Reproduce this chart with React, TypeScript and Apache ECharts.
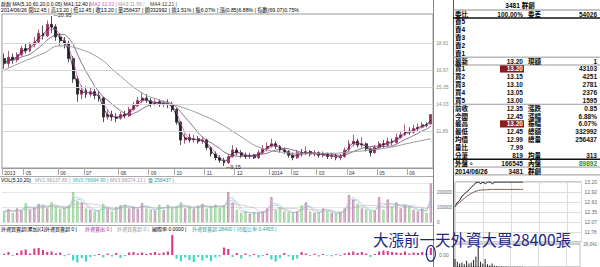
import React, { useEffect, useRef } from "react";
import * as echarts from "echarts";

// ---- daily candles (about 3 trading days each): [open, close, low, high]
const candles: number[][] = [
  [17.6, 17.2, 16.8, 18.0], [17.2, 17.7, 16.9, 18.2], [17.7, 17.5, 17.2, 18.0], [17.5, 17.9, 17.3, 18.1], [17.9, 18.4, 17.8, 18.6],
  [18.4, 18.2, 18.0, 18.8], [18.2, 18.7, 18.1, 18.9], [18.7, 18.9, 18.5, 19.3], [18.9, 19.6, 18.8, 19.9], [19.6, 19.4, 19.1, 20.2],
  [19.4, 20.3, 19.3, 20.6], [20.3, 20.1, 19.6, 20.95], [20.1, 19.3, 19.0, 20.3], [19.3, 19.0, 18.6, 19.6], [19.0, 18.8, 18.4, 19.3],
  [18.8, 17.6, 17.3, 19.0], [17.6, 16.0, 15.7, 17.8], [16.0, 14.8, 14.2, 16.2], [14.8, 15.1, 14.4, 15.5], [15.1, 14.8, 14.5, 15.4],
  [14.8, 15.0, 14.6, 15.3], [15.0, 14.7, 14.4, 15.2], [14.7, 14.5, 14.2, 15.0], [14.5, 13.0, 12.6, 14.6], [13.0, 13.2, 12.8, 13.6],
  [13.2, 13.0, 12.7, 13.5], [13.0, 12.9, 12.6, 13.3], [12.9, 13.2, 12.8, 13.4], [13.2, 13.1, 12.9, 13.5], [13.1, 13.6, 13.0, 13.8],
  [13.6, 13.9, 13.5, 14.2], [13.9, 14.3, 13.8, 14.6], [14.3, 14.5, 14.1, 14.9], [14.5, 14.3, 14.1, 14.8], [14.3, 14.0, 13.8, 14.5],
  [14.0, 14.2, 13.9, 14.4], [14.2, 14.0, 13.8, 14.4], [14.0, 14.1, 13.8, 14.3], [14.1, 14.0, 13.7, 14.4], [14.0, 13.6, 13.4, 14.2],
  [13.6, 12.6, 12.4, 13.7], [12.6, 11.2, 10.8, 12.7], [11.2, 11.4, 10.9, 11.7], [11.4, 11.2, 11.0, 11.7], [11.2, 11.3, 11.0, 11.6],
  [11.3, 11.1, 10.9, 11.5], [11.1, 11.2, 10.9, 11.4], [11.2, 10.6, 10.4, 11.3], [10.6, 10.1, 9.9, 10.7], [10.1, 9.8, 9.6, 10.3],
  [9.8, 9.6, 9.4, 10.0], [9.6, 9.4, 9.15, 9.8], [9.4, 9.9, 9.3, 10.1], [9.9, 10.4, 9.8, 10.8], [10.4, 10.2, 10.0, 10.6],
  [10.2, 10.0, 9.8, 10.4], [10.0, 9.9, 9.7, 10.2], [9.9, 10.0, 9.7, 10.2], [10.0, 9.8, 9.7, 10.1], [9.8, 10.2, 9.7, 10.4],
  [10.2, 10.5, 10.1, 10.8], [10.5, 10.7, 10.3, 11.0], [10.7, 10.9, 10.6, 11.3], [10.9, 10.7, 10.5, 11.1], [10.7, 10.4, 10.2, 10.8],
  [10.4, 10.3, 10.1, 10.6], [10.3, 10.0, 9.8, 10.4], [10.0, 9.8, 9.6, 10.2], [9.8, 10.2, 9.7, 10.4], [10.2, 10.1, 9.9, 10.5],
  [10.1, 10.3, 10.0, 10.7], [10.3, 10.1, 9.9, 10.4], [10.1, 10.2, 9.9, 10.4], [10.2, 10.0, 9.8, 10.3], [10.0, 10.1, 9.8, 10.3],
  [10.1, 9.9, 9.7, 10.2], [9.9, 10.0, 9.7, 10.2], [10.0, 9.8, 9.6, 10.1], [9.8, 9.9, 9.6, 10.1], [9.9, 10.4, 9.8, 10.6],
  [10.4, 10.9, 10.3, 11.2], [10.9, 11.1, 10.7, 11.6], [11.1, 10.8, 10.6, 11.3], [10.8, 10.9, 10.6, 11.4], [10.9, 10.5, 10.3, 11.0],
  [10.5, 10.2, 9.9, 10.6], [10.2, 10.6, 10.1, 10.8], [10.6, 10.9, 10.5, 11.1], [10.9, 10.8, 10.6, 11.2], [10.8, 11.1, 10.7, 11.4],
  [11.1, 11.0, 10.8, 11.3], [11.0, 11.4, 10.9, 11.7], [11.4, 11.6, 11.3, 11.9], [11.6, 11.9, 11.5, 12.4], [11.9, 11.8, 11.6, 12.2],
  [11.8, 12.1, 11.7, 12.4], [12.1, 12.2, 11.9, 12.5], [12.2, 12.4, 12.1, 12.6], [12.4, 12.35, 12.2, 12.6], [12.45, 13.2, 12.45, 13.2],
];

const volumes = [
  70000, 85000, 60000, 90000, 75000, 125000, 80000, 95000, 120000, 110000,
  90000, 130000, 100000, 85000, 95000, 110000, 200000, 140000, 130000, 90000,
  80000, 70000, 75000, 120000, 90000, 70000, 100000, 110000, 115000, 90000,
  100000, 85000, 125000, 90000, 80000, 75000, 115000, 80000, 115000, 90000,
  105000, 130000, 90000, 100000, 85000, 110000, 120000, 90000, 105000, 115000,
  95000, 110000, 200000, 130000, 80000, 60000, 70000, 55000, 65000, 60000,
  70000, 90000, 165000, 80000, 100000, 70000, 65000, 60000, 70000, 110000,
  130000, 70000, 60000, 65000, 90000, 70000, 60000, 55000, 65000, 90000,
  180000, 150000, 120000, 90000, 80000, 70000, 75000, 165000, 80000, 150000,
  100000, 130000, 90000, 110000, 105000, 80000, 70000, 90000, 60000, 256437,
];

const foreignNet = [
  5000, 12000, -4000, 8000, 18000, 22000, 6000, 26000, 28000, 20000,
  12000, 14000, 6000, 10000, -5000, 3000, -22000, -30000, -12000, -26000,
  -8000, -4000, 4000, -10000, 6000, -6000, 8000, -12000, -5000, 10000,
  12000, 6000, 10000, 4000, 8000, 12000, 6000, 10000, 14000, 80000,
  -15000, -25000, -10000, -20000, -28000, -8000, -22000, -12000, -25000, -10000,
  -6000, 30000, 24000, -8000, 8000, -14000, 6000, -6000, 4000, -10000,
  -4000, 5000, -18000, -26000, -12000, 8000, -6000, -20000, -14000, 12000,
  6000, -4000, 5000, -6000, 4000, -3000, -5000, 3000, -4000, 6000,
  10000, 14000, 8000, 12000, 6000, -8000, 4000, 14000, 18000, 16000,
  12000, 10000, 8000, 14000, 6000, 10000, 8000, 12000, 6000, 28400,
];

const ma60Idx = [0, 4, 9, 13, 17, 22, 26, 32, 36, 41, 45, 50, 55, 59, 64, 69, 76, 80, 85, 90, 94, 99];
const ma60Val = [16.7, 17.3, 18.0, 18.6, 18.4, 17.65, 16.5, 14.9, 14.35, 13.8, 13.3, 12.5, 11.45, 10.65, 10.25, 10.15, 10.15, 10.25, 10.4, 10.65, 10.95, 11.3];

const monthIdx = [0, 5, 13, 19, 27, 34, 40, 47, 54, 62, 67, 73, 80, 87, 94];
const monthText = ["2013", "05", "06", "07", "08", "09", "10", "11", "12", "2014", "02", "03", "04", "05", "06"];

const fibLevels = [18.81, 16.67, 15.35, 14.03, 11.89];
const fibPct = ["80.9%", "61.8%", "", "38.2%", "19.1%"];
const highPrice = 20.95;
const lowPrice = 9.15;
const lastPrice = 13.2;

// intraday (minutes after 09:00)
const tickMin = [0, 5, 10, 15, 20, 25, 30, 35, 40, 45, 50, 55, 60, 65, 70, 75, 80, 85, 90, 95, 100, 105, 110, 115, 120, 125, 130, 135, 140, 145];
const tickPrice = [12.5, 12.62, 12.68, 12.8, 12.86, 12.92, 12.98, 13.05, 13.12, 13.18, 13.2, 13.15, 13.2, 13.15, 13.2, 13.2, 13.15, 13.2, 13.2, 13.2, 13.2, 13.2, 13.2, 13.2, 13.2, 13.2, 13.2, 13.2, 13.2, 13.2];
const tickAvg = [12.52, 12.57, 12.62, 12.68, 12.74, 12.79, 12.84, 12.88, 12.91, 12.94, 12.96, 12.97, 12.98, 12.98, 12.98, 12.99, 12.99, 12.99, 12.99, 12.99, 12.99, 12.99, 12.99, 12.99, 12.99, 12.99, 12.99, 12.99, 12.99, 12.99];
const tickVol = [9000, 6000, 4000, 5000, 3000, 7000, 4000, 5000, 8000, 12000, 24000, 6000, 4000, 9000, 3000, 2000, 4000, 1500, 1000, 600, 500, 400, 500, 300, 400, 300, 300, 200, 300, 200];
const tickVolMax = 26041;
const prevClose = 12.35;
const limitSpan = 0.85;

// quote table
const qLabelA = ["委比", "賣5", "賣4", "賣3", "賣2", "賣1", "最新", "買1", "買2", "買3", "買4", "買5", "前收", "今開", "最高", "最低", "均價", "量比", "分筆", "外盤。", "2014/06/26"];
const qValueA = ["100.00%", "", "", "", "", "", "13.20", "13.20", "13.15", "13.10", "13.05", "13.00", "12.35", "12.45", "13.20", "12.45", "12.99", "7.99", "819", "166545", "3481"];
const qLabelB = ["委差", "", "", "", "", "", "現額", "", "", "", "", "", "漲跌", "漲幅", "振幅", "總額", "總量", "", "均量", "內盤", "群創"];
const qValueB = ["54026", "", "", "", "", "", "1", "43103", "4251", "2781", "2376", "1595", "0.85", "6.88%", "6.07%", "332992", "256437", "", "313", "89892", ""];
const qHighlight = [7, 14];

const SMALL = "'Liberation Sans', 'Noto Sans CJK TC', sans-serif";
const CJK = "'Noto Sans CJK TC', 'Liberation Sans', sans-serif";

function movingAvg(vals: number[], n: number) {
  return vals.map((_, i) => {
    const s = Math.max(0, i - n + 1);
    let sum = 0;
    for (let k = s; k <= i; k++) sum += vals[k];
    return +(sum / (i - s + 1)).toFixed(3);
  });
}

function txt(g: any[], x: number, y: number, text: string, o: any = {}) {
  const size = o.size || 5;
  g.push({
    type: "text",
    x,
    y,
    silent: true,
    z: 50,
    style: {
      text,
      fill: o.fill || "#000",
      font: `${o.weight || "normal"} ${size}px ${o.family || SMALL}`,
      lineHeight: size,
      align: o.align || "left",
      textAlign: o.align || "left",
      verticalAlign: "middle",
      textVerticalAlign: "middle",
    },
  });
}
function hline(g: any[], x1: number, x2: number, y: number, color = "#888", w = 1) {
  g.push({ type: "line", silent: true, z: 40, shape: { x1, y1: y, x2, y2: y }, style: { stroke: color, lineWidth: w } });
}
function vline(g: any[], x: number, y1: number, y2: number, color = "#888", w = 1) {
  g.push({ type: "line", silent: true, z: 40, shape: { x1: x, y1, x2: x, y2 }, style: { stroke: color, lineWidth: w } });
}

export default function App() {
  const ref = useRef<HTMLDivElement>(null);
  useEffect(() => {
    const chart = echarts.init(ref.current!, null, { renderer: "svg", width: 600, height: 267 });
    const cats = candles.map((_, i) => String(i));
    const closes = candles.map((c) => c[1]);
    const ma60 = cats.map((_, i) => {
      const k = ma60Idx.indexOf(i);
      return k >= 0 ? ma60Val[k] : null;
    });
    const isTick = (i: number) => monthIdx.indexOf(i) >= 0;
    const upColor = "#98305e";
    const downColor = "#262626";

    const fibMarks: any[] = [];
    fibLevels.forEach((v, k) => {
      fibMarks.push({ yAxis: v, lineStyle: { color: "#d6d6d6", width: 1, type: "solid" }, label: { formatter: v.toFixed(2) } });
      if (fibPct[k]) {
        fibMarks.push({ yAxis: v, lineStyle: { opacity: 0 }, label: { formatter: "(" + fibPct[k] + ")", offset: [0, 6] } });
      }
    });
    fibMarks.push({ yAxis: highPrice, lineStyle: { opacity: 0 }, label: { formatter: highPrice.toFixed(2) } });
    fibMarks.push({ yAxis: lowPrice, lineStyle: { opacity: 0 }, label: { formatter: lowPrice.toFixed(2) } });
    fibMarks.push({ yAxis: lastPrice, lineStyle: { opacity: 0 }, label: { formatter: lastPrice.toFixed(2), color: "#d02020" } });

    const hiIdx = candles.findIndex((c) => c[3] === highPrice);
    const loIdx = candles.findIndex((c) => c[2] === lowPrice);

    const option: any = {
      animation: false,
      backgroundColor: "#ffffff",
      grid: [
        { left: 2, top: 14, width: 431, height: 154, show: true, borderColor: "#999", borderWidth: 1 },
        { left: 2, top: 183, width: 431, height: 39 },
        { left: 2, top: 233, width: 431, height: 34 },
        { left: 455, top: 182, width: 128, height: 60, show: true, borderColor: "#999", borderWidth: 1 },
        { left: 455, top: 244, width: 128, height: 23, show: true, borderColor: "#999", borderWidth: 1 },
      ],
      xAxis: [
        {
          type: "category", gridIndex: 0, data: cats, boundaryGap: true,
          axisLine: { lineStyle: { color: "#999" } },
          axisTick: { show: true, interval: (i: number) => isTick(i), length: 7, lineStyle: { color: "#aaa" } },
          axisLabel: {
            interval: (i: number) => isTick(i),
            formatter: (_v: string, i: number) => monthText[monthIdx.indexOf(i)] || "",
            fontSize: 5, color: "#333", align: "left", margin: 2, fontFamily: SMALL,
          },
          splitLine: { show: false },
        },
        { type: "category", gridIndex: 1, data: cats, axisLine: { show: false }, axisTick: { show: false }, axisLabel: { show: false } },
        { type: "category", gridIndex: 2, data: cats, axisLine: { show: false }, axisTick: { show: false }, axisLabel: { show: false } },
        { type: "value", gridIndex: 3, min: 0, max: 270, interval: 60, axisLine: { show: false }, axisTick: { show: false }, axisLabel: { show: false }, splitLine: { show: true, lineStyle: { color: "#ddd" } } },
        { type: "value", gridIndex: 4, min: 0, max: 270, interval: 60, axisLine: { show: false }, axisTick: { show: false }, axisLabel: { show: false }, splitLine: { show: true, lineStyle: { color: "#ddd" } } },
      ],
      yAxis: [
        { type: "value", gridIndex: 0, min: 8.993, max: 21.107, position: "right", axisLabel: { show: false }, axisLine: { show: false }, axisTick: { show: false }, splitLine: { show: false } },
        {
          type: "value", gridIndex: 1, min: 0, max: 260000, interval: 100000, position: "right",
          axisLine: { show: false }, axisTick: { show: false },
          axisLabel: { fontSize: 4.5, color: "#666", margin: 4, fontFamily: SMALL, formatter: (v: number) => (v <= 200000 ? String(v) : "") },
          splitLine: { show: true, lineStyle: { color: "#e6e6e6" } },
        },
        {
          type: "value", gridIndex: 2, min: -48000, max: 88000, interval: 8000, position: "right",
          axisLine: { show: false }, axisTick: { show: false }, splitLine: { show: false },
          axisLabel: { fontSize: 5, color: "#666", margin: 6, fontFamily: SMALL, formatter: (v: number) => (v === 0 ? "0.00" : "") },
        },
        {
          type: "value", gridIndex: 3, min: prevClose - 1 * limitSpan, max: prevClose + limitSpan, interval: limitSpan / 3, position: "right",
          axisLine: { show: false }, axisTick: { show: false },
          axisLabel: { fontSize: 5, color: "#666", margin: 3, fontFamily: SMALL, showMinLabel: false, formatter: (v: number) => v.toFixed(2) },
          splitLine: { show: true, lineStyle: { color: "#ddd" } },
        },
        {
          type: "value", gridIndex: 4, min: 0, max: tickVolMax, interval: tickVolMax, position: "right",
          axisLine: { show: false }, axisTick: { show: false }, splitLine: { show: false },
          axisLabel: { fontSize: 4.5, color: "#666", margin: 3, fontFamily: SMALL, showMinLabel: false },
        },
      ],
      series: [
        {
          type: "candlestick", xAxisIndex: 0, yAxisIndex: 0, data: candles, barWidth: "55%",
          itemStyle: { color: upColor, color0: downColor, borderColor: upColor, borderColor0: downColor, borderWidth: 0.8 },
          markLine: {
            silent: true, symbol: ["none", "none"],
            label: { position: "end", distance: 3, fontSize: 5, color: "#888", fontFamily: SMALL },
            data: fibMarks,
          },
          markPoint: {
            silent: true,
            symbolSize: 1,
            itemStyle: { color: "rgba(0,0,0,0)" },
            label: { show: true, position: "right", distance: 2, fontSize: 5.5, color: "#222", fontFamily: SMALL },
            data: [
              { coord: [hiIdx, highPrice], value: highPrice, label: { formatter: "─" + highPrice.toFixed(2), offset: [0, -1] } },
              { coord: [loIdx, lowPrice], value: lowPrice, label: { formatter: "─" + lowPrice.toFixed(2), offset: [0, 1] } },
            ],
          },
        },
        { type: "line", xAxisIndex: 0, yAxisIndex: 0, data: movingAvg(closes, 2), showSymbol: false, lineStyle: { color: "#111", width: 0.7 } },
        { type: "line", xAxisIndex: 0, yAxisIndex: 0, data: movingAvg(closes, 3), showSymbol: false, lineStyle: { color: "#c050b0", width: 0.7 } },
        { type: "line", xAxisIndex: 0, yAxisIndex: 0, data: movingAvg(closes, 7), showSymbol: false, lineStyle: { color: "#5a3a5a", width: 0.7 } },
        { type: "line", xAxisIndex: 0, yAxisIndex: 0, data: ma60, connectNulls: true, smooth: true, showSymbol: false, lineStyle: { color: "#9a9a9a", width: 1 } },
        {
          type: "bar", xAxisIndex: 1, yAxisIndex: 1, barWidth: "50%",
          data: volumes.map((v, i) => {
            const up = candles[i][1] >= candles[i][0];
            return {
              value: v,
              itemStyle: up
                ? { color: "rgba(226,170,205,0.55)", borderColor: "#a0608e", borderWidth: 0.6 }
                : { color: "rgba(170,225,170,0.55)", borderColor: "#6ab86a", borderWidth: 0.6 },
            };
          }),
        },
        { type: "line", xAxisIndex: 1, yAxisIndex: 1, data: movingAvg(volumes, 2), showSymbol: false, lineStyle: { color: "#b0b0b0", width: 0.6 } },
        { type: "line", xAxisIndex: 1, yAxisIndex: 1, data: movingAvg(volumes, 3), showSymbol: false, lineStyle: { color: "#70c8c8", width: 0.6 } },
        { type: "line", xAxisIndex: 1, yAxisIndex: 1, data: movingAvg(volumes, 7), showSymbol: false, lineStyle: { color: "#c8a8b8", width: 0.6 } },
        {
          type: "bar", xAxisIndex: 2, yAxisIndex: 2, barWidth: "50%",
          data: foreignNet.map((v) => ({ value: v, itemStyle: { color: v >= 0 ? "#dc3c8c" : "#40d4c4" } })),
        },
        { type: "line", xAxisIndex: 3, yAxisIndex: 3, data: tickMin.map((m, i) => [m, tickPrice[i]]), showSymbol: false, lineStyle: { color: "#111", width: 1 } },
        { type: "line", xAxisIndex: 3, yAxisIndex: 3, data: tickMin.map((m, i) => [m, tickAvg[i]]), showSymbol: false, lineStyle: { color: "#7a5a50", width: 1 } },
        { type: "bar", xAxisIndex: 4, yAxisIndex: 4, barWidth: 1, data: tickMin.map((m, i) => [m, tickVol[i]]), itemStyle: { color: "#222" } },
      ],
    };
    chart.setOption(option);

    // ---------- graphics ----------
    const g: any[] = [];
    vline(g, 433.5, 0, 267, "#888");
    vline(g, 453.5, 0, 267, "#555");
    hline(g, 0, 433, 176.5, "#aaa");
    hline(g, 0, 433, 225.5, "#aaa");

    // header line 1
    txt(g, 1, 4, "群創 MA(5,10,60,20,0,0.05) MA1:12.40 |", { size: 5 });
    txt(g, 90, 4, "MA2:12.31 |", { size: 5, fill: "#d060b8" });
    txt(g, 118, 4, "MA3:11.56 |", { size: 5, fill: "#a0a0a0" });
    txt(g, 150, 4, "MA4:12.21 |", { size: 5, fill: "#333" });
    // header line 2
    txt(g, 1, 10, "2014/06/26 開12.45 | 高13.20 | 低12.45 | 收13.20 | 量256437 | 額332992 | 換1.51% | 振6.07% | 漲(0.85)6.88% | 指數(69.07)0.75%", { size: 5.2 });

    // vol header
    txt(g, 1, 180, "VOL(5,10,20)", { size: 5 });
    txt(g, 35, 180, "MV1:96137.80 |", { size: 5, fill: "#999" });
    txt(g, 73, 180, "MV2:76694.90 |", { size: 5, fill: "#30b0b0" });
    txt(g, 110, 180, "MV3:56074.13 |", { size: 5, fill: "#b090a0" });
    txt(g, 148, 180, "量:256437 |", { size: 5, fill: "#30a0a0" });

    // foreign header
    txt(g, 1, 229, "外資買賣超(累加)(1)", { size: 5 });
    txt(g, 45, 229, "外資買賣超:0 |", { size: 5 });
    txt(g, 85, 229, "外資賣出:0 |", { size: 5, fill: "#a030a0" });
    txt(g, 117, 229, "外資買賣超:0 |", { size: 5, fill: "#999" });
    txt(g, 152, 229, "國際率:0.0000 |", { size: 5 });
    txt(g, 192, 229, "外資買賣超:28400 |", { size: 5, fill: "#30a0a0" });
    txt(g, 237, 229, "持股比率:0.4455 |", { size: 5, fill: "#30a0a0" });

    // quote panel
    txt(g, 520, 5, "3481 群創", { size: 6.5, weight: "bold", align: "center" });
    hline(g, 453, 600, 10, "#888");
    const rowY = (i: number) => 14 + i * 7.85;
    qLabelA.forEach((lab, i) => {
      const y = rowY(i);
      if (qHighlight.indexOf(i) >= 0) {
        g.push({ type: "rect", silent: true, z: 45, shape: { x: 500, y: y - 3.6, width: 24, height: 7.2 }, style: { fill: "#8a1c1c" } });
      }
      txt(g, 455, y, lab, { size: 6.5, weight: "bold" });
      if (qValueA[i]) txt(g, 523, y, qValueA[i], { size: 6.5, weight: "bold", align: "right", fill: qHighlight.indexOf(i) >= 0 ? "#ffffff" : "#111" });
      if (qLabelB[i]) txt(g, 528, y, qLabelB[i], { size: 6.5, weight: "bold" });
      if (qValueB[i]) txt(g, 597, y, qValueB[i], { size: 6.5, weight: "bold", align: "right", fill: qLabelB[i] === "內盤" ? "#2e8b2e" : "#111" });
    });
    const sepAfter = [0, 5, 6, 11, 18, 19, 20];
    const thick = [0, 18];
    sepAfter.forEach((i) => {
      const y = rowY(i) + 3.9;
      hline(g, 453, 600, y, thick.indexOf(i) >= 0 ? "#111" : "#999", thick.indexOf(i) >= 0 ? 1.5 : 1);
    });

    // annotation
    txt(g, 373, 238.5, "大漲前一天外資大買28400張", { size: 15.5, family: CJK, fill: "#1c2580" });
    const last = foreignNet.length - 1;
    const p = chart.convertToPixel({ gridIndex: 2 } as any, [last, foreignNet[last] / 2]) as number[];
    if (p && isFinite(p[0])) {
      g.push({ type: "ellipse", silent: true, z: 60, shape: { cx: p[0], cy: p[1] + 2, rx: 4.5, ry: 8 }, style: { fill: "none", stroke: "#1c2580", lineWidth: 1.2 } });
    }

    chart.setOption({ graphic: g });
    return () => chart.dispose();
  }, []);
  return <div ref={ref} style={{ position: "fixed", left: 0, top: 0, width: 600, height: 267, background: "#fff" }} />;
}
